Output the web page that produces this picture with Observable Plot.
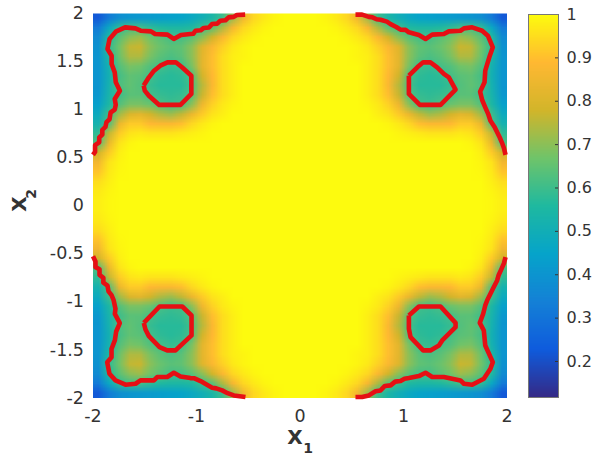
<!DOCTYPE html>
<html>
<head>
<meta charset="utf-8">
<script src="https://cdn.jsdelivr.net/npm/d3@7"></script>
<script src="https://cdn.jsdelivr.net/npm/@observablehq/plot@0.6"></script>
<style>
html,body{margin:0;padding:0;background:#fff}
#wrap{position:relative;width:592px;height:459px;overflow:hidden}
#wrap svg{position:absolute;top:0;background:transparent}
</style>
</head>
<body>
<div id="wrap"></div>
<script>
const colorDomain = [0.117, 1];
const colorTicks = [0.2,0.3,0.4,0.5,0.6,0.7,0.8,0.9,1];
const xTicks = [-2,-1,0,1,2];
const yTicks = [-2,-1.5,-1,-0.5,0,0.5,1,1.5,2];
const parula = ["#352a87","#0f5cdd","#1481d6","#06a4ca","#1fb9a0","#6fc46a","#d2b52a","#ffb832","#fdfb0e"];

// Upper-left quadrant: rows y = 1.95 … 0.05, columns x = -1.95 … -0.05
const quadrant = [
[.22,.32,.38,.40,.41,.42,.43,.44,.45,.47,.50,.54,.60,.72,.86,.94,.97,.99,1,1],
[.32,.47,.58,.61,.61,.58,.56,.55,.55,.56,.60,.64,.74,.87,.94,.97,.99,1,1,1],
[.37,.56,.64,.70,.72,.67,.64,.61,.61,.64,.70,.78,.88,.94,.97,.99,1,1,1,1],
[.39,.58,.67,.76,.77,.70,.66,.64,.65,.70,.81,.88,.93,.97,.99,1,1,1,1,1],
[.40,.55,.66,.74,.74,.68,.64,.62,.64,.70,.82,.90,.95,.98,.99,1,1,1,1,1],
[.40,.52,.63,.68,.67,.63,.61,.59,.60,.68,.82,.90,.95,.98,1,1,1,1,1,1],
[.40,.51,.61,.65,.64,.61,.58,.57,.58,.62,.78,.89,.95,.98,1,1,1,1,1,1],
[.40,.52,.62,.65,.63,.59,.57,.57,.57,.61,.75,.88,.95,.98,1,1,1,1,1,1],
[.41,.53,.60,.64,.64,.61,.59,.58,.59,.63,.77,.90,.95,.98,1,1,1,1,1,1],
[.44,.55,.63,.68,.68,.66,.62,.60,.61,.70,.85,.93,.97,.99,1,1,1,1,1,1],
[.48,.60,.72,.80,.82,.78,.74,.72,.76,.84,.92,.96,.98,1,1,1,1,1,1,1],
[.52,.62,.84,.92,.92,.89,.88,.88,.90,.94,.97,.99,1,1,1,1,1,1,1,1],
[.58,.76,.92,.96,.97,.96,.96,.96,.97,.98,.99,1,1,1,1,1,1,1,1,1],
[.62,.84,.96,.99,1,1,1,1,1,1,1,1,1,1,1,1,1,1,1,1],
[.78,.92,.98,1,1,1,1,1,1,1,1,1,1,1,1,1,1,1,1,1],
[.86,.96,.99,1,1,1,1,1,1,1,1,1,1,1,1,1,1,1,1,1],
[.91,.97,.995,1,1,1,1,1,1,1,1,1,1,1,1,1,1,1,1,1],
[.95,.98,1,1,1,1,1,1,1,1,1,1,1,1,1,1,1,1,1,1],
[.97,.99,1,1,1,1,1,1,1,1,1,1,1,1,1,1,1,1,1,1],
[.98,.995,1,1,1,1,1,1,1,1,1,1,1,1,1,1,1,1,1,1]
];

const tlOuterX = [-2,-1.98,-1.98,-1.94,-1.94,-1.91,-1.91,-1.88,-1.87,-1.84,-1.83,-1.79,-1.78,-1.79,-1.74,-1.78,-1.79,-1.82,-1.82,-1.86,-1.84,-1.78,-1.69,-1.59,-1.54,-1.44,-1.40,-1.28,-1.22,-1.15,-1.06,-1.03,-1.01,-.96,-.93,-.88,-.85,-.80,-.77,-.72,-.69,-.64,-.61,-.53];
const tlOuterY = [.529,.56,.63,.66,.71,.74,.79,.82,.87,.90,.97,1.0,1.05,1.11,1.197,1.284,1.388,1.475,1.561,1.631,1.735,1.811,1.856,1.845,1.821,1.814,1.787,1.78,1.735,1.776,1.787,1.79,1.821,1.825,1.85,1.855,1.89,1.895,1.925,1.93,1.96,1.965,1.985,1.988];
const tlInnerX = [-1.51,-1.46,-1.41,-1.35,-1.28,-1.20,-1.14,-1.05,-1.05,-1.155,-1.36,-1.46,-1.50,-1.51];
const tlInnerY = [1.25,1.336,1.405,1.457,1.492,1.492,1.44,1.353,1.163,1.049,1.049,1.145,1.198,1.25];
const trOuterX = [1.986,1.97,1.95,1.93,1.905,1.88,1.84,1.82,1.79,1.76,1.74,1.783,1.79,1.834,1.863,1.815,1.76,1.664,1.584,1.55,1.438,1.39,1.277,1.213,1.149,1.052,1.02,.971,.93,.875,.84,.778,.74,.70,.665,.60,.536];
const trOuterY = [.529,.60,.66,.71,.764,.82,.885,.95,1.024,1.10,1.187,1.284,1.405,1.561,1.648,1.769,1.821,1.856,1.845,1.821,1.814,1.787,1.78,1.735,1.776,1.804,1.83,1.832,1.86,1.89,1.915,1.935,1.94,1.96,1.965,1.988,1.988];
const trInnerX = [1.052,1.133,1.19,1.26,1.325,1.39,1.438,1.503,1.358,1.158,1.052,1.052];
const trInnerY = [1.353,1.44,1.492,1.492,1.44,1.371,1.336,1.208,1.049,1.049,1.163,1.353];
const blOuterX = [-2,-1.976,-1.976,-1.937,-1.937,-1.90,-1.90,-1.86,-1.85,-1.821,-1.80,-1.783,-1.789,-1.741,-1.776,-1.789,-1.821,-1.821,-1.863,-1.841,-1.783,-1.686,-1.589,-1.541,-1.412,-1.38,-1.283,-1.219,-1.155,-1.058,-1.02,-.961,-.92,-.849,-.81,-.752,-.70,-.639,-.527];
const blOuterY = [-.525,-.58,-.639,-.66,-.72,-.75,-.80,-.83,-.89,-.93,-.985,-1.072,-1.124,-1.221,-1.308,-1.401,-1.488,-1.575,-1.627,-1.748,-1.817,-1.862,-1.852,-1.817,-1.817,-1.782,-1.782,-1.737,-1.776,-1.793,-1.795,-1.824,-1.85,-1.893,-1.90,-1.921,-1.95,-1.973,-1.99];
const blInnerX = [-1.509,-1.493,-1.46,-1.357,-1.283,-1.203,-1.048,-1.048,-1.138,-1.357,-1.509];
const blInnerY = [-1.218,-1.287,-1.356,-1.471,-1.505,-1.505,-1.349,-1.142,-1.048,-1.048,-1.218];
const brOuterX = [1.986,1.97,1.947,1.92,1.905,1.87,1.84,1.81,1.79,1.77,1.737,1.776,1.79,1.863,1.84,1.776,1.664,1.584,1.55,1.39,1.277,1.213,1.149,1.052,1.01,.971,.92,.875,.82,.778,.73,.665,.60,.536];
const brOuterY = [-.535,-.60,-.656,-.72,-.777,-.85,-.916,-.98,-1.037,-1.124,-1.218,-1.298,-1.454,-1.627,-1.696,-1.80,-1.862,-1.852,-1.817,-1.782,-1.782,-1.737,-1.772,-1.793,-1.80,-1.824,-1.83,-1.869,-1.875,-1.921,-1.93,-1.973,-1.99,-1.99];
const brInnerX = [1.052,1.149,1.358,1.503,1.503,1.374,1.342,1.26,1.19,1.068,1.052,1.052];
const brInnerY = [-1.142,-1.048,-1.048,-1.218,-1.263,-1.401,-1.454,-1.505,-1.505,-1.367,-1.28,-1.142];

const contours = [[tlOuterX,tlOuterY],[tlInnerX,tlInnerY],[trOuterX,trOuterY],[trInnerX,trInnerY],
                  [blOuterX,blOuterY],[blInnerX,blInnerY],[brOuterX,brOuterY],[brInnerX,brInnerY]];

const inkColor = "#333333";
const fullRows = quadrant.map(r => r.concat(r.slice().reverse()));
const gridRows = fullRows.concat(fullRows.slice().reverse());
const gridValues = gridRows.flat();
const colorScale = {type:"linear", domain:colorDomain, interpolate:d3.piecewise(d3.interpolateRgb, parula)};
const baseStyle = {fontFamily:"'DejaVu Sans'", fontSize:"17px", color:inkColor, background:"transparent", overflow:"visible"};

const main = Plot.plot({
  width:592, height:459,
  marginLeft:92.5, marginRight:85.5, marginTop:13, marginBottom:61.5,
  style:baseStyle,
  x:{domain:[-2,2]}, y:{domain:[-2,2]}, color:colorScale,
  marks:[
    Plot.raster(gridValues,{width:40,height:40,x1:-2,x2:2,y1:-2,y2:2,imageRendering:"auto"}),
    ...contours.map(([xs,ys]) => Plot.line(xs,{x:xs,y:ys,stroke:"#e60f14",strokeWidth:4.6,strokeLinejoin:"round",strokeLinecap:"butt",curve:"linear"})),
    Plot.axisX({ticks:xTicks,tickSize:0,tickPadding:12,label:null,tickFormat:d=>String(d),fontSize:17.5,color:inkColor}),
    Plot.axisY({ticks:yTicks,tickSize:0,tickPadding:9,label:null,tickFormat:d=>String(d),fontSize:17.5,color:inkColor}),
    Plot.text(["X"],{frameAnchor:"bottom",dx:-5,dy:46,fontSize:20,fontWeight:"bold",fill:inkColor}),
    Plot.text(["1"],{frameAnchor:"bottom",dx:8,dy:55,fontSize:14,fontWeight:"bold",fill:inkColor}),
    Plot.text(["X"],{frameAnchor:"left",dx:-73,dy:6,rotate:-90,fontSize:20,fontWeight:"bold",fill:inkColor}),
    Plot.text(["2"],{frameAnchor:"left",dx:-61.5,dy:-7,rotate:-90,fontSize:14,fontWeight:"bold",fill:inkColor})
  ]
});
main.style.left = "0px";

const barLevels = d3.range(256).map(i => colorDomain[0] + (colorDomain[1]-colorDomain[0])*i/255);
const bar = Plot.plot({
  width:92, height:459,
  marginLeft:28, marginRight:34, marginTop:14, marginBottom:62,
  style:baseStyle,
  x:{domain:[0,1],axis:null}, y:{domain:colorDomain}, color:colorScale,
  marks:[
    Plot.raster(barLevels,{width:1,height:256,x1:0,x2:1,y1:colorDomain[0],y2:colorDomain[1]}),
    Plot.axisY({anchor:"right",ticks:colorTicks,tickSize:-4,tickPadding:12,label:null,tickFormat:d=>String(d),fontSize:16,color:inkColor,stroke:"#333"}),
    Plot.frame({stroke:"#777",strokeWidth:1})
  ]
});
bar.style.left = "500px";

const wrap = document.getElementById("wrap");
wrap.append(main, bar);
</script>
</body>
</html>
